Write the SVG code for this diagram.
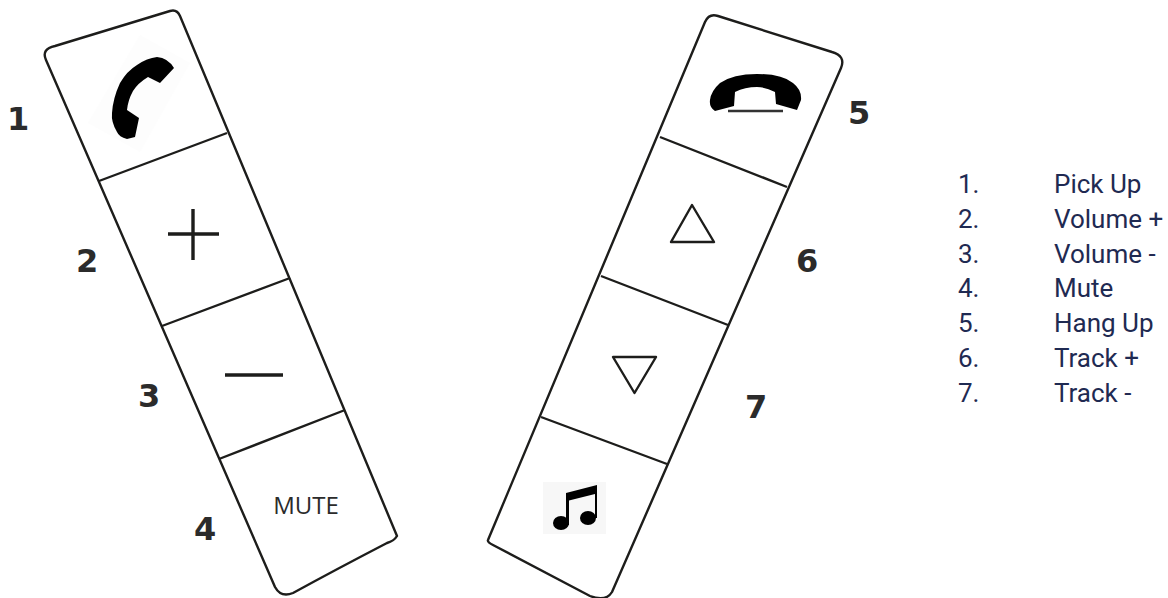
<svg xmlns="http://www.w3.org/2000/svg" width="1168" height="598" viewBox="0 0 1168 598">
<style>
.o{fill:none;stroke:#1d1d1b;stroke-width:2.4;stroke-linejoin:round}
.t{fill:none;stroke:#1d1d1b;stroke-width:3.4}
.k{fill:#000}
.n{font-family:"DejaVu Sans","Liberation Sans",sans-serif;font-weight:700;font-size:32px;fill:#2b2b2b}
.l{font-family:"Roboto","Liberation Sans",sans-serif;font-size:26px;fill:#1f2a52}
</style>
<rect width="1168" height="598" fill="#fff"/>
<g id="left-panel">
<path class="o" d="M55 46L170 11Q177 9 180 16L397 536Q394 541 387 543Q335 570 293 593Q281 598 275 587L46 60Q41 49 55 46Z"/>
<path class="o" d="M99 181L227 133M162 326L290 278M219 459L345 410"/>
</g>
<g id="right-panel">
<path class="o" d="M705 22Q709 13 718 16L832 52Q846 56 841 68L612 592Q606 602 590 596L493 545Q487 542 488 540Z"/>
<path class="o" d="M660 137L787 187M601 276L728 325M541 417L667 464"/>
</g>
<g id="node-1"><path d="M140 35L190 63L140 152L88 123Z" fill="#fdfdfd"/><path class="k" d="M157 57Q168 58 174 68L160 83L148 77Q138 83 133 91Q128 100 127 110L139 118L135 137L127 139Q119 137 117 132Q111 122 112 113Q113 98 120 83Q127 71 137 65Q147 58 157 57Z"/><text class="n" x="7" y="130">1</text></g>
<g id="node-2"><path class="t" d="M168 234H219M193 209V260"/><text class="n" x="76" y="272">2</text></g>
<g id="node-3"><path class="t" d="M225 375H283"/><text class="n" x="138" y="407">3</text></g>
<g id="node-4"><text x="306" y="514" text-anchor="middle" font-family="Open Sans,sans-serif" font-size="24" fill="#2b2b2b">MUTE</text><text class="n" x="194" y="540">4</text></g>
<g id="node-5"><path class="k" d="M757 74Q782 74 793 83Q802 90 801 100L797 110L776 104L775 92Q766 87 757 87Q745 87 735 92L734 106L715 111Q709 107 710 100Q711 91 720 83Q733 74 757 74Z"/><path d="M728 111H783" stroke="#333" stroke-width="2.4"/><text class="n" x="848" y="124">5</text></g>
<g id="node-6"><path class="o" d="M692 205L714 242H671Z"/><text class="n" x="796" y="272">6</text></g>
<g id="node-7"><path class="o" d="M613 357H656L634.500 393Z"/><text class="n" x="745" y="418">7</text></g>
<g id="music"><rect x="543" y="482" width="63" height="52" fill="#f7f7f7"/><path class="k" d="M566 493L597 485V518H595V494L569 500.500V525H566Z"/><ellipse class="k" cx="561" cy="523" rx="8" ry="7"/><ellipse class="k" cx="588" cy="518" rx="8" ry="7"/></g>
<g id="legend">
<text class="l" x="958" y="193">1.</text><text class="l" x="1054" y="193">Pick Up</text>
<text class="l" x="958" y="228">2.</text><text class="l" x="1054" y="228">Volume +</text>
<text class="l" x="958" y="263">3.</text><text class="l" x="1054" y="263">Volume -</text>
<text class="l" x="958" y="297">4.</text><text class="l" x="1054" y="297">Mute</text>
<text class="l" x="958" y="332">5.</text><text class="l" x="1054" y="332">Hang Up</text>
<text class="l" x="958" y="367">6.</text><text class="l" x="1054" y="367">Track +</text>
<text class="l" x="958" y="402">7.</text><text class="l" x="1054" y="402">Track -</text>
</g>
</svg>
